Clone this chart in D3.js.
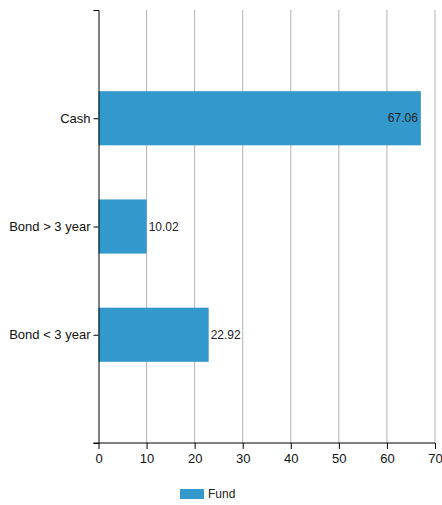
<!DOCTYPE html>
<html>
<head>
<meta charset="utf-8">
<script src="https://cdn.jsdelivr.net/npm/d3@7"></script>
<style>
  html, body { margin: 0; padding: 0; background: #fff; }
  svg { display: block; font-family: "Liberation Sans", Arial, sans-serif; }
</style>
</head>
<body>
<svg id="chart" width="442" height="505"></svg>
<script>
// Asset allocation of the fund, in percent
const categories = ["Cash", "Bond > 3 year", "Bond < 3 year"];
const fundValues = [67.06, 10.02, 22.92];
const xTicks = [0, 10, 20, 30, 40, 50, 60, 70];
const seriesName = "Fund";

const svg = d3.select("#chart");
const width = 442, height = 505;
const margin = { top: 10, right: 7, bottom: 62, left: 98.5 };
const plotW = width - margin.left - margin.right;
const plotH = height - margin.top - margin.bottom;
const barColor = "#3399cc";

const x = d3.scaleLinear().domain([0, 70]).range([0, plotW]);
const y = d3.scalePoint().domain(categories).range([0, plotH]).padding(1);
const barH = y.step() * 0.5;

const g = svg.append("g").attr("transform", `translate(${margin.left},${margin.top})`);

// vertical grid lines
g.append("g")
  .selectAll("line")
  .data(xTicks.filter(d => d > 0))
  .join("line")
  .attr("x1", d => x(d)).attr("x2", d => x(d))
  .attr("y1", 0).attr("y2", plotH)
  .attr("stroke", "#b4b4b4")
  .attr("stroke-width", 1);

// bars
const rows = categories.map((c, i) => ({ cat: c, value: fundValues[i] }));
g.append("g")
  .selectAll("rect")
  .data(rows)
  .join("rect")
  .attr("x", 0)
  .attr("y", d => y(d.cat) - barH / 2)
  .attr("width", d => x(d.value))
  .attr("height", barH)
  .attr("fill", barColor);

// value labels: outside the bar when it fits, otherwise inside at the end
g.append("g")
  .selectAll("text")
  .data(rows)
  .join("text")
  .attr("x", d => x(d.value) + (x(d.value) + 40 > plotW ? -3 : 2))
  .attr("y", d => y(d.cat))
  .attr("dy", "0.35em")
  .attr("text-anchor", d => (x(d.value) + 40 > plotW ? "end" : "start"))
  .attr("font-size", 12)
  .attr("fill", "#222")
  .text(d => d.value.toFixed(2));

// x axis
const xAxis = g.append("g")
  .attr("transform", `translate(0,${plotH})`)
  .call(d3.axisBottom(x).tickValues(xTicks).tickSize(6).tickSizeOuter(0).tickPadding(5));
xAxis.select(".domain").remove();
xAxis.append("line")
  .attr("x1", -5).attr("x2", plotW)
  .attr("stroke", "#000");
xAxis.selectAll("text").attr("font-size", 13).attr("fill", "#111").attr("font-family", null);
xAxis.selectAll(".tick line").attr("stroke", "#000");

// y axis
const yAxis = g.append("g")
  .call(d3.axisLeft(y).tickSize(5).tickSizeOuter(5).tickPadding(3));
yAxis.selectAll("text").attr("font-size", 13).attr("fill", "#111").attr("font-family", null);
yAxis.select(".domain").attr("stroke", "#000");
yAxis.selectAll(".tick line").attr("stroke", "#000");

// legend
const legend = svg.append("g").attr("transform", "translate(180,489)");
legend.append("rect").attr("width", 24).attr("height", 10).attr("fill", barColor);
legend.append("text")
  .attr("x", 28).attr("y", 5).attr("dy", "0.35em")
  .attr("font-size", 12).attr("fill", "#222")
  .text(seriesName);
</script>
</body>
</html>
